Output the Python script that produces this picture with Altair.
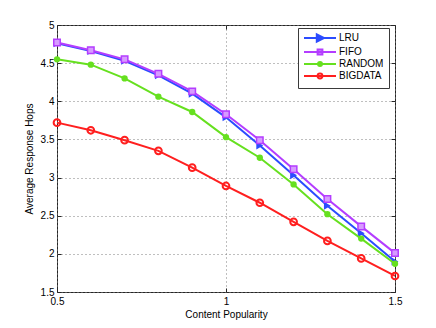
import altair as alt
import pandas as pd

popularity = [0.5, 0.6, 0.7, 0.8, 0.9, 1.0, 1.1, 1.2, 1.3, 1.4, 1.5]
lru = [4.76, 4.66, 4.53, 4.34, 4.10, 3.79, 3.42, 3.03, 2.63, 2.27, 1.90]
fifo = [4.77, 4.67, 4.55, 4.36, 4.13, 3.83, 3.49, 3.11, 2.72, 2.36, 2.01]
random_ = [4.55, 4.48, 4.30, 4.06, 3.86, 3.53, 3.26, 2.91, 2.52, 2.20, 1.87]
bigdata = [3.72, 3.62, 3.49, 3.35, 3.13, 2.89, 2.67, 2.42, 2.17, 1.94, 1.71]

names = ["LRU", "FIFO", "RANDOM", "BIGDATA"]
series = [lru, fifo, random_, bigdata]
colors = ["#2b4cff", "#b43dff", "#66e01f", "#ff1f1f"]
fills = ["#2b4cff", "#d79bff", "#66e01f", "#ffffff"]
legend_paths = [
    "M-4,0H4M-0.8,-0.9L1,0L-0.8,0.9Z",
    "M-4,0H4M-0.6,-0.6H0.6V0.6H-0.6Z",
    "M-4,0H4M0.5,0A0.5,0.5,0,1,1,-0.5,0A0.5,0.5,0,1,1,0.5,0Z",
    "M-4,0H4M0.6,0A0.6,0.6,0,1,1,-0.6,0A0.6,0.6,0,1,1,0.6,0Z",
]
x_ticks = [0.5, 1.0, 1.5]
y_ticks = [1.5, 2.0, 2.5, 3.0, 3.5, 4.0, 4.5, 5.0]

rows = []
for name, vals in zip(names, series):
    for xv, yv in zip(popularity, vals):
        rows.append({"series": name, "pop": xv, "hops": yv})
df = pd.DataFrame(rows)

FONT = "Liberation Sans"
xscale = alt.Scale(domain=[0.5, 1.5], nice=False, zero=False)
yscale = alt.Scale(domain=[1.5, 5], nice=False, zero=False)

main_x_axis = alt.Axis(
    values=x_ticks, format="~g", orient="bottom", offset=-4, tickSize=4,
    labelPadding=4, labelFlush=False, domain=False, grid=True, gridDash=[1, 3],
    gridColor="#7f7f7f", tickColor="#262626", labelColor="#000000", labelFont=FONT,
    labelFontSize=10, title="Content Popularity", titleFont=FONT, titleFontSize=10,
    titleFontWeight="normal", titleColor="#000000", titlePadding=3,
)
main_y_axis = alt.Axis(
    values=y_ticks, format="~g", orient="left", offset=-4, tickSize=4,
    labelPadding=3, labelFlush=False, domain=False, grid=True, gridDash=[1, 3],
    gridColor="#7f7f7f", tickColor="#262626", labelColor="#000000", labelFont=FONT,
    labelFontSize=10, title="Average Response Hops", titleFont=FONT, titleFontSize=10,
    titleFontWeight="normal", titleColor="#000000", titlePadding=6,
)
top_axis = alt.Axis(values=x_ticks, orient="top", offset=-4, tickSize=4, labels=False,
                    domain=False, grid=False, tickColor="#262626", title=None)
right_axis = alt.Axis(values=y_ticks, orient="right", offset=-4, tickSize=4, labels=False,
                      domain=False, grid=False, tickColor="#262626", title=None)

base = alt.Chart(df)
layers = []
marker_specs = {
    "LRU": dict(shape="triangle-right", filled=True, size=64, color=colors[0]),
    "FIFO": dict(shape="square", filled=True, size=42, fill=fills[1], stroke=colors[1], strokeWidth=1.5),
    "RANDOM": dict(shape="circle", filled=True, size=40, color=colors[2]),
    "BIGDATA": dict(shape="circle", filled=False, size=45, color=colors[3], strokeWidth=2),
}
for i, (name, col) in enumerate(zip(names, colors)):
    if i == 0:
        xe = alt.X("pop:Q", scale=xscale, axis=main_x_axis)
        ye = alt.Y("hops:Q", scale=yscale, axis=main_y_axis)
    else:
        xe = alt.X("pop:Q", scale=xscale, axis=None)
        ye = alt.Y("hops:Q", scale=yscale, axis=None)
    line = base.transform_filter(alt.datum.series == name).mark_line(
        color=col, strokeWidth=2).encode(x=xe, y=ye)
    pts = base.transform_filter(alt.datum.series == name).mark_point(
        opacity=1, **marker_specs[name]).encode(
        x=alt.X("pop:Q", scale=xscale, axis=None),
        y=alt.Y("hops:Q", scale=yscale, axis=None))
    layers += [line, pts]

leg = alt.Legend(
    title=None, orient="none", legendX=241, legendY=3, padding=5,
    fillColor="#ffffff", strokeColor="#3a3a3a",
    symbolSize=64, symbolStrokeWidth=2, symbolOpacity=1, symbolOffset=12,
    labelOffset=14, labelFont=FONT, labelFontSize=10, labelColor="#000000",
    rowPadding=-1,
)
carrier = base.mark_point(opacity=0, size=64, strokeWidth=2).encode(
    x=alt.X("pop:Q", scale=xscale, axis=top_axis),
    y=alt.Y("hops:Q", scale=yscale, axis=right_axis),
    stroke=alt.Stroke("series:N", sort=names, scale=alt.Scale(domain=names, range=colors), legend=leg),
    fill=alt.Fill("series:N", sort=names, scale=alt.Scale(domain=names, range=fills), legend=leg),
    shape=alt.Shape("series:N", sort=names, scale=alt.Scale(domain=names, range=legend_paths), legend=leg),
)
layers.append(carrier)

chart = alt.layer(*layers).resolve_axis(x="independent", y="independent").properties(
    width=338, height=267,
    autosize=alt.AutoSizeParams(type="none"),
    padding={"left": 49, "top": 17, "right": 25, "bottom": 28},
    background="#ffffff",
).configure_view(stroke="#262626", strokeWidth=1)

chart.save("out.html", embed_options={"renderer": "svg", "actions": False})
